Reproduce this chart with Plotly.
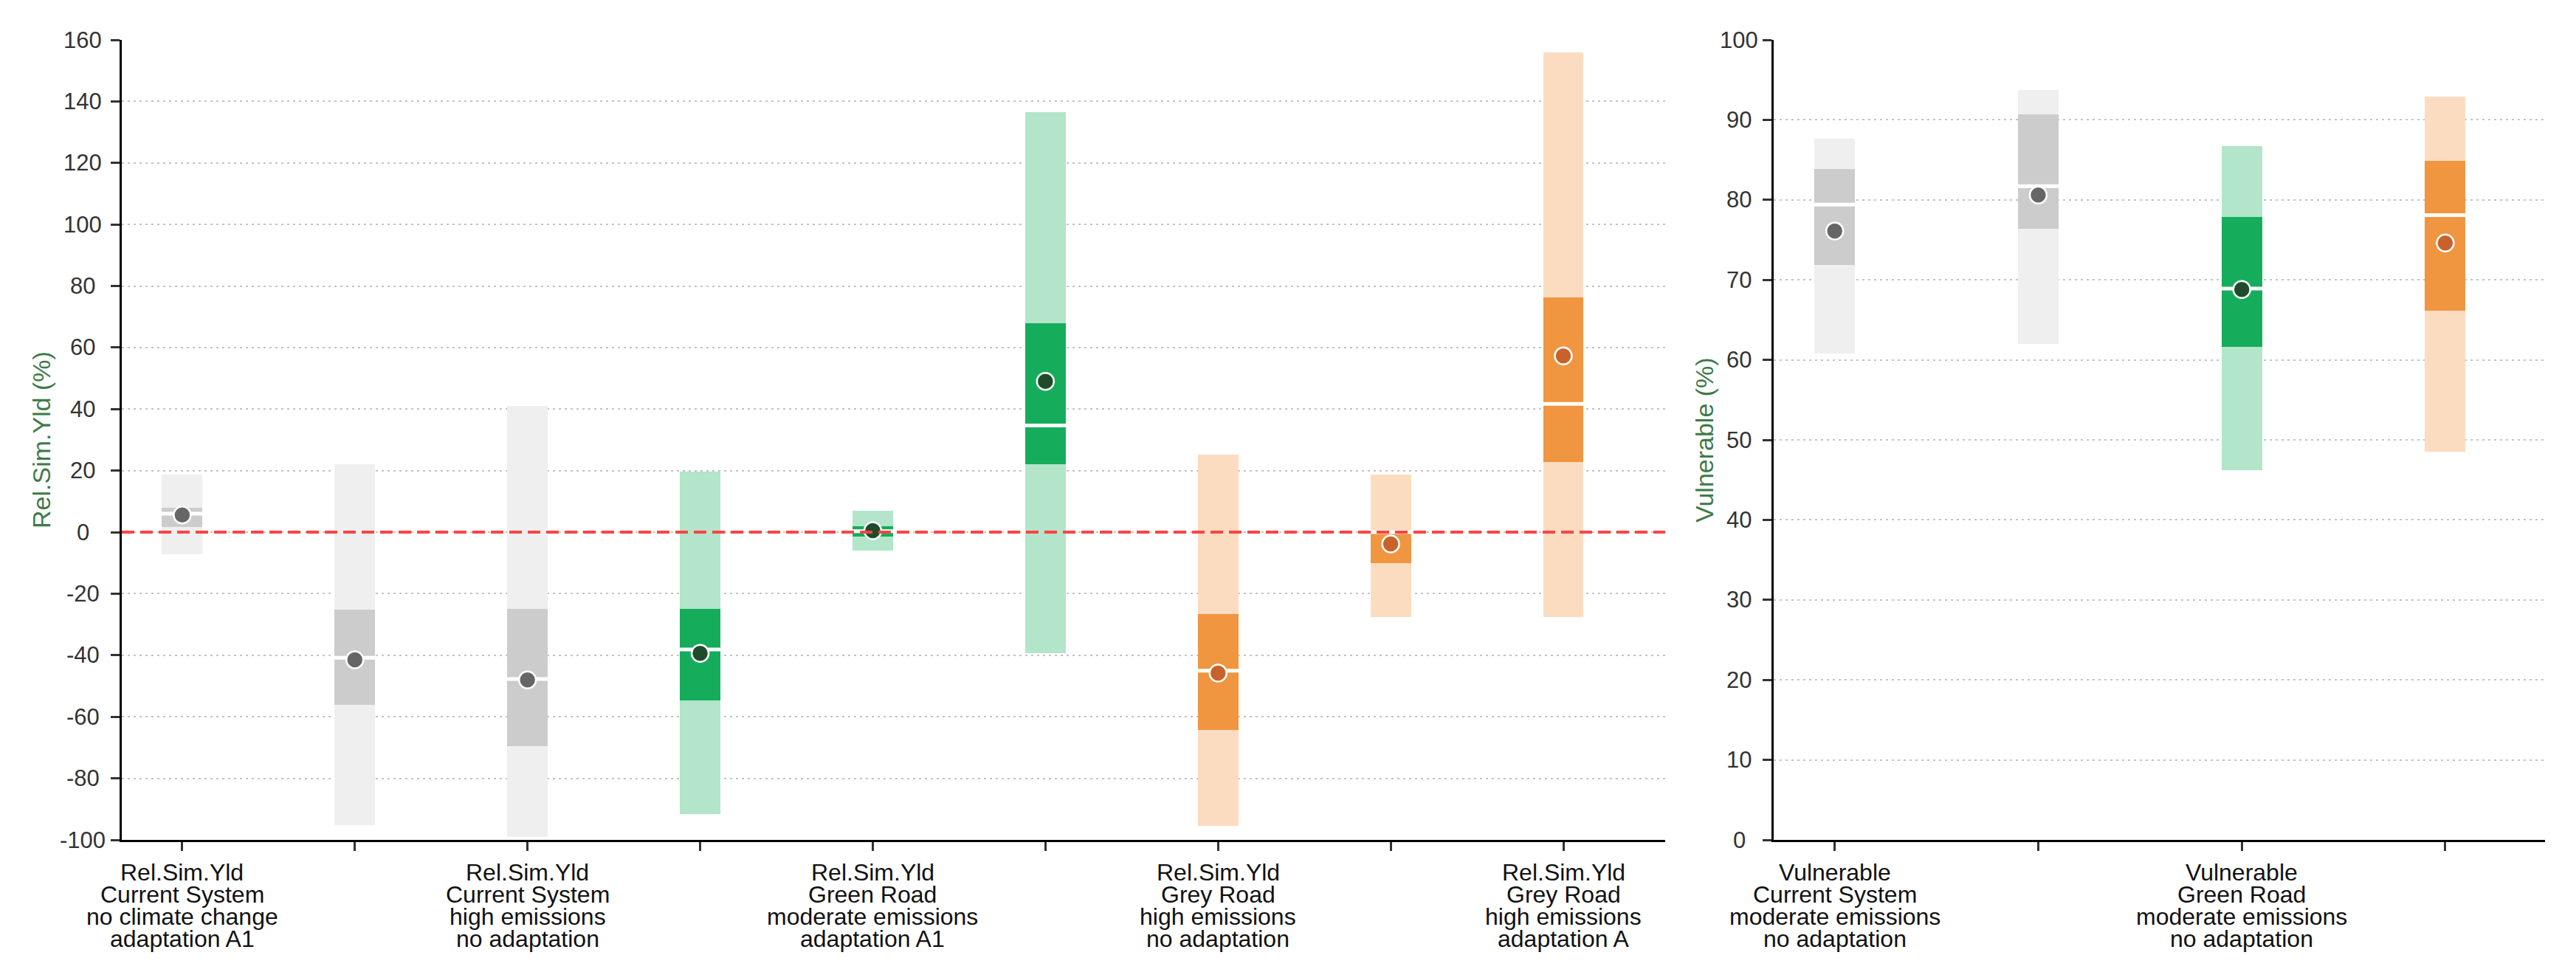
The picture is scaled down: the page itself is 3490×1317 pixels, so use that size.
import plotly.graph_objects as go

# ---------------- data ----------------
rel_labels = [
    "Rel.Sim.Yld<br>Current System<br>no climate change<br>adaptation A1",
    "",
    "Rel.Sim.Yld<br>Current System<br>high emissions<br>no adaptation",
    "",
    "Rel.Sim.Yld<br>Green Road<br>moderate emissions<br>adaptation A1",
    "",
    "Rel.Sim.Yld<br>Grey Road<br>high emissions<br>no adaptation",
    "",
    "Rel.Sim.Yld<br>Grey Road<br>high emissions<br>adaptation A",
]
rel_group = ["grey", "grey", "grey", "green", "green", "green", "orange", "orange", "orange"]
rel_low = [-7.2, -95.2, -99.0, -91.6, -6.0, -39.4, -95.5, -27.5, -27.5]
rel_q1 = [1.7, -56.2, -69.5, -54.6, -1.5, 22.0, -64.3, -10.0, 22.8]
rel_median = [6.0, -40.8, -47.7, -38.1, 0.3, 34.7, -45.0, 0.0, 41.7]
rel_q3 = [8.0, -25.1, -25.0, -24.9, 1.9, 67.8, -26.6, 0.6, 76.2]
rel_high = [18.7, 22.0, 41.0, 19.7, 6.9, 136.6, 25.2, 18.7, 156.0]
rel_mean = [5.6, -41.5, -48.0, -39.4, 0.5, 49.0, -45.8, -3.8, 57.3]

vul_labels = [
    "Vulnerable<br>Current System<br>moderate emissions<br>no adaptation",
    "",
    "Vulnerable<br>Green Road<br>moderate emissions<br>no adaptation",
    "",
]
vul_group = ["grey", "grey", "green", "orange"]
vul_low = [60.8, 62.0, 46.2, 48.5]
vul_q1 = [71.9, 76.4, 61.6, 66.1]
vul_median = [79.4, 81.7, 68.9, 78.1]
vul_q3 = [83.9, 90.7, 77.9, 84.9]
vul_high = [87.6, 93.7, 86.7, 92.9]
vul_mean = [76.1, 80.6, 68.8, 74.6]

rel_ticks = [-100, -80, -60, -40, -20, 0, 20, 40, 60, 80, 100, 120, 140, 160]
vul_ticks = [0, 10, 20, 30, 40, 50, 60, 70, 80, 90, 100]
rel_title = "Rel.Sim.Yld (%)"
vul_title = "Vulnerable (%)"

# ---------------- style ----------------
palette = {
    "grey": {"outer": "#efefef", "inner": "#cccccc", "dot": "#666666"},
    "green": {"outer": "#b2e5c9", "inner": "#15ad5c", "dot": "#1f4b2a"},
    "orange": {"outer": "#fcdcc0", "inner": "#f09540", "dot": "#c9622a"},
}
FONT = "Liberation Sans, Arial, sans-serif"
TICK_COLOR = "#333333"
TITLE_COLOR = "#3f7a48"
PAGE_PAD = 8                      # default body margin of the html page
W, H = 3490 - 2 * PAGE_PAD, 1317 - 2 * PAGE_PAD


def fx(px):
    return (px - PAGE_PAD) / W


fig = go.Figure()


def add_panel(xa, ya, labels, groups, low, q1, med, q3, high, mean, bw):
    xs = list(range(len(labels)))
    fig.add_trace(go.Bar(
        x=xs, base=low, y=[h - l for h, l in zip(high, low)], width=bw,
        marker=dict(color=[palette[g]["outer"] for g in groups], line=dict(width=0)),
        xaxis=xa, yaxis=ya, showlegend=False, hoverinfo="skip"))
    fig.add_trace(go.Bar(
        x=xs, base=q1, y=[b - a for b, a in zip(q3, q1)], width=bw,
        marker=dict(color=[palette[g]["inner"] for g in groups], line=dict(width=0)),
        xaxis=xa, yaxis=ya, showlegend=False, hoverinfo="skip"))
    fig.add_trace(go.Scatter(
        x=xs, y=med, mode="markers",
        marker=dict(symbol="line-ew", size=55, line=dict(width=5, color="white")),
        xaxis=xa, yaxis=ya, showlegend=False, hoverinfo="skip"))
    fig.add_trace(go.Scatter(
        x=xs, y=mean, mode="markers",
        marker=dict(symbol="circle", size=23,
                    color=[palette[g]["dot"] for g in groups],
                    line=dict(width=2.5, color="white")),
        xaxis=xa, yaxis=ya, showlegend=False, hoverinfo="skip"))


add_panel("x", "y", rel_labels, rel_group, rel_low, rel_q1, rel_median, rel_q3,
          rel_high, rel_mean, 0.235)
add_panel("x2", "y2", vul_labels, vul_group, vul_low, vul_q1, vul_median, vul_q3,
          vul_high, vul_mean, 0.2)

# zero reference line on the yield panel
fig.add_shape(type="line", xref="x domain", yref="y", x0=0, x1=1, y0=0, y1=0,
              line=dict(color="#ff4444", width=4, dash="17px,8px"), layer="above")

# multi-line category labels (tight line spacing)
line_offsets = [44, 74, 104, 134]
for xref, yref, labels in (("x", "y domain", rel_labels), ("x2", "y2 domain", vul_labels)):
    for i, lab in enumerate(labels):
        if not lab:
            continue
        for j, line in enumerate(lab.split("<br>")):
            fig.add_annotation(x=i, y=0, xref=xref, yref=yref, text=line,
                               showarrow=False, xanchor="center", yanchor="middle",
                               yshift=-line_offsets[j],
                               font=dict(family=FONT, size=32, color="#111111"))

# centred y tick labels and rotated axis titles
for xref, yref, ticks, label_shift, title, title_shift in (
        ("x domain", "y", rel_ticks, -53, rel_title, -109),
        ("x2 domain", "y2", vul_ticks, -47, vul_title, -94)):
    for t in ticks:
        fig.add_annotation(x=0, y=t, xref=xref, yref=yref, text=str(t),
                           showarrow=False, xanchor="center", yanchor="middle",
                           xshift=label_shift,
                           font=dict(family=FONT, size=31, color=TICK_COLOR))
    fig.add_annotation(x=0, y=0.5, xref=xref, yref=yref + " domain", text=title,
                       showarrow=False, textangle=-90, xanchor="center",
                       yanchor="middle", xshift=title_shift,
                       font=dict(family=FONT, size=34, color=TITLE_COLOR))

common_x = dict(showgrid=False, zeroline=False, showline=True, linecolor="#000000",
                linewidth=3, ticks="outside", ticklen=12, tickwidth=3,
                tickcolor=TICK_COLOR, showticklabels=False)
common_y = dict(showgrid=True, gridcolor="#c4c4c4", gridwidth=2, griddash="3px,5px",
                zeroline=False, showline=True, linecolor="#000000", linewidth=3,
                ticks="outside", ticklen=12, tickwidth=3, tickcolor=TICK_COLOR,
                showticklabels=False)

fig.update_layout(
    width=W, height=H,
    margin=dict(l=0, r=0, t=round(53.6 - PAGE_PAD), b=H - (1138 - PAGE_PAD)),
    paper_bgcolor="white", plot_bgcolor="white",
    barmode="overlay", bargap=0,
    showlegend=False,
    xaxis=dict(domain=[fx(165), fx(2256)], range=[-0.35, 8.59],
               tickvals=list(range(len(rel_labels))), anchor="y", **common_x),
    yaxis=dict(domain=[0, 1], range=[-100, 160], tickvals=rel_ticks, anchor="x",
               **common_y),
    xaxis2=dict(domain=[fx(2403), fx(3448)], range=[-0.3, 3.49],
                tickvals=list(range(len(vul_labels))), anchor="y2", **common_x),
    yaxis2=dict(domain=[0, 1], range=[0, 100], tickvals=vul_ticks, anchor="x2",
                **common_y),
)

fig.write_html("out.html")
